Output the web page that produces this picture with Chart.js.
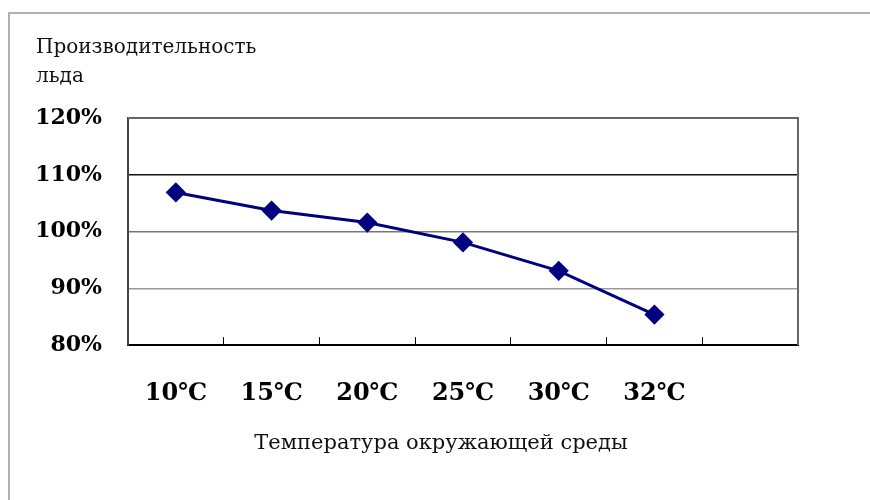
<!DOCTYPE html>
<html>
<head>
<meta charset="utf-8">
<script src="https://cdn.jsdelivr.net/npm/chart.js@4/dist/chart.umd.min.js"></script>
<style>
  html, body { margin: 0; padding: 0; background: #fff; overflow: hidden; }
  #frame { position: absolute; left: 8px; top: 12px; width: 900px; height: 520px;
           border-left: 2px solid #b0b0b0; border-top: 2px solid #b0b0b0; }
  #wrap { position: absolute; left: 0; top: 0; width: 870px; height: 500px; }
</style>
</head>
<body>
<div id="frame"></div>
<div id="wrap"><canvas id="chart" width="870" height="500"></canvas></div>
<script>
// Данные графика
const temperatures = ['10℃', '15℃', '20℃', '25℃', '30℃', '32℃', ''];
const productivity = [106.9, 103.7, 101.6, 98.1, 93.1, 85.4, null];
const yTicks = [80, 90, 100, 110, 120];

const yTitle = ['Производительность', 'льда'];
const xTitle = 'Температура окружающей среды';

// рамка области построения (верх и справа) + подпись оси X по центру листа
const plotFrame = {
    id: 'plotFrame',
    afterDraw(chart) {
        const { ctx, chartArea: a } = chart;
        ctx.save();
        ctx.strokeStyle = '#666';
        ctx.lineWidth = 2;
        ctx.beginPath();
        ctx.moveTo(a.left, a.top);
        ctx.lineTo(a.right, a.top);
        ctx.lineTo(a.right, a.bottom);
        ctx.stroke();

        const xs = chart.scales.x;
        ctx.fillStyle = '#111';
        ctx.font = '21px "DejaVu Serif"';
        ctx.textAlign = 'center';
        ctx.textBaseline = 'middle';
        ctx.fillText(xTitle, chart.width / 2 + 6, xs.bottom - 6);
        ctx.restore();
    }
};

const ctx = document.getElementById('chart').getContext('2d');
new Chart(ctx, {
    type: 'line',
    data: {
        labels: temperatures,
        datasets: [{
            data: productivity,
            borderColor: '#000080',
            backgroundColor: '#000080',
            borderWidth: 3,
            pointStyle: 'rectRot',
            pointRadius: 8,
            pointBackgroundColor: '#000080',
            pointBorderColor: '#000080',
            tension: 0
        }]
    },
    options: {
        responsive: false,
        animation: false,
        layout: { padding: { left: 36, right: 72, top: 0, bottom: 50 } },
        plugins: {
            legend: { display: false },
            tooltip: { enabled: false },
            title: {
                display: true,
                text: yTitle,
                align: 'start',
                color: '#111',
                font: { family: 'DejaVu Serif', size: 20, weight: 'normal', lineHeight: 1.45 },
                padding: { top: 33, bottom: 27 }
            }
        },
        scales: {
            x: {
                type: 'category',
                offset: true,
                grid: {
                    offset: true,
                    drawOnChartArea: false,
                    drawTicks: true,
                    tickLength: -8,
                    color: '#000',
                    lineWidth: 1
                },
                border: { display: true, color: '#000', width: 2 },
                ticks: {
                    padding: 42,
                    color: '#000',
                    maxRotation: 0,
                    font: { family: 'DejaVu Serif', size: 24, weight: 'bold' }
                }
            },
            y: {
                min: yTicks[0],
                max: yTicks[yTicks.length - 1],
                afterBuildTicks: scale => { scale.ticks = yTicks.map(v => ({ value: v })); },
                afterFit: scale => { scale.width = 92; },
                grid: {
                    drawTicks: false,
                    color: c => c.tick && c.tick.value === 110 ? '#111' : (c.tick && c.tick.value === 100 ? '#777' : '#9a9a9a'),
                    lineWidth: 1.5
                },
                border: { display: true, color: '#444', width: 2 },
                ticks: {
                    padding: 26,
                    color: '#000',
                    font: { family: 'DejaVu Serif', size: 22, weight: 'bold' },
                    callback: v => v + '%'
                }
            }
        }
    },
    plugins: [plotFrame]
});
</script>
</body>
</html>
